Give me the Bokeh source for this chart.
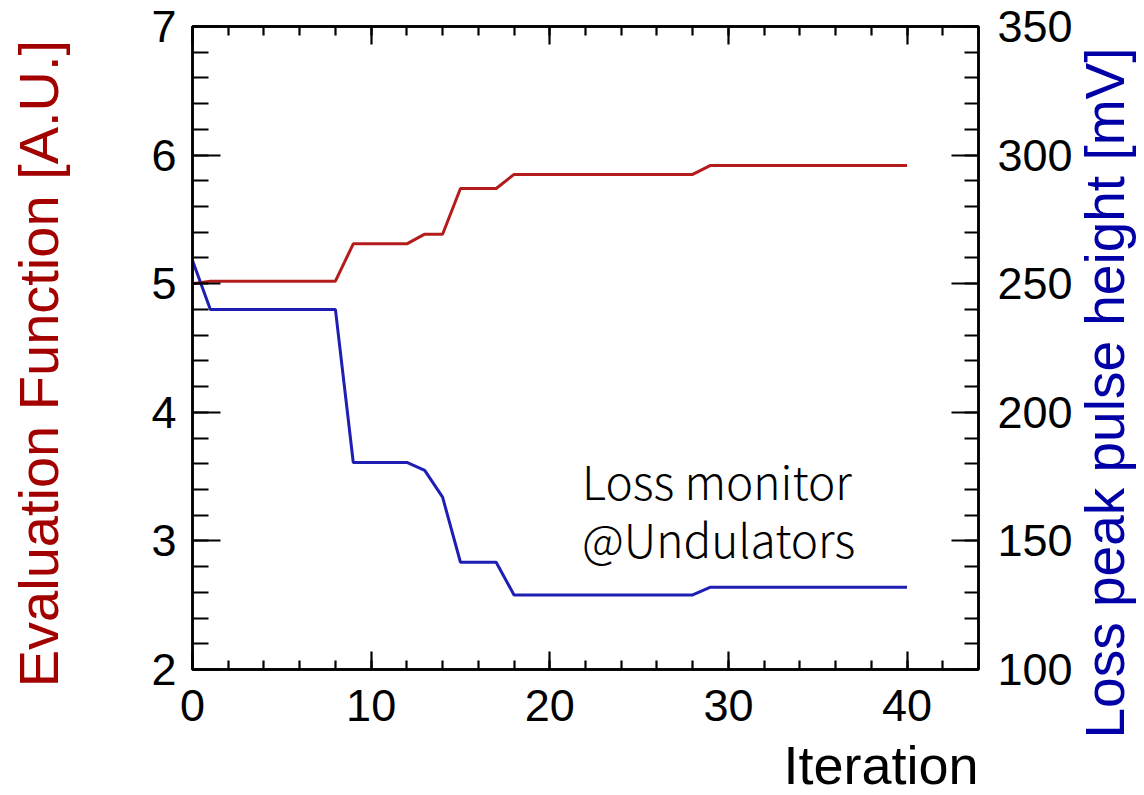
import math
from bokeh.plotting import figure
from bokeh.models import (Range1d, LinearAxis, SingleIntervalTicker, Label,
                          CustomJSTickFormatter)
from bokeh.embed import file_html
from bokeh.resources import INLINE

# ---------------- data ----------------
iterations = [0, 1, 2, 3, 4, 5, 6, 7, 8, 9, 10, 11, 12, 13, 14, 15, 16, 17, 18, 19, 20,
              21, 22, 23, 24, 25, 26, 27, 28, 29, 30, 31, 32, 33, 34, 35, 36, 37, 38, 39, 40]
eval_function = [5.00, 5.02, 5.02, 5.02, 5.02, 5.02, 5.02, 5.02, 5.02,
                 5.31, 5.31, 5.31, 5.31, 5.385, 5.385, 5.74, 5.74, 5.74,
                 5.85, 5.85, 5.85, 5.85, 5.85, 5.85, 5.85, 5.85, 5.85, 5.85, 5.85,
                 5.92, 5.92, 5.92, 5.92, 5.92, 5.92, 5.92, 5.92, 5.92, 5.92, 5.92, 5.92]
loss_peak_mv = [259.0, 240.0, 240.0, 240.0, 240.0, 240.0, 240.0, 240.0, 240.0,
                180.5, 180.5, 180.5, 180.5, 177.4, 167.0, 141.7, 141.7, 141.7,
                129.0, 129.0, 129.0, 129.0, 129.0, 129.0, 129.0, 129.0, 129.0, 129.0, 129.0,
                132.0, 132.0, 132.0, 132.0, 132.0, 132.0, 132.0, 132.0, 132.0, 132.0, 132.0, 132.0]

x_title = "Iteration"
left_title = "Evaluation Function [A.U.]"
right_title = "Loss peak pulse height [mV]"
note_lines = ["Loss monitor", "@Undulators"]

FONT = "Liberation Sans"
NOTE_FONT = "'Noto Sans CJK JP Light', 'Noto Sans CJK JP'"
RED_LINE = "#b41c1c"
BLUE_LINE = "#1e1eb4"
RED_TEXT = "#a30000"
BLUE_TEXT = "#0000a6"
NBSP = "\u00a0"

p = figure(width=1144, height=795, output_backend="svg", toolbar_location=None,
           x_range=Range1d(0, 44), y_range=Range1d(2, 7),
           min_border_left=192, min_border_right=166,
           min_border_top=26, min_border_bottom=126)
p.extra_y_ranges = {"mv": Range1d(100, 350)}
p.grid.visible = False
p.background_fill_color = "white"
p.border_fill_color = "white"
p.outline_line_color = "black"
p.outline_line_width = 2.5

p.line(iterations, eval_function, line_color=RED_LINE, line_width=3)
p.line(iterations, loss_peak_mv, line_color=BLUE_LINE, line_width=3, y_range_name="mv")


def style(ax, maj_in, min_in, standoff):
    ax.axis_line_color = "black"
    ax.axis_line_width = 2.5
    ax.major_tick_in = maj_in
    ax.major_tick_out = 0
    ax.minor_tick_in = min_in
    ax.minor_tick_out = 0
    ax.major_tick_line_width = 2.2
    ax.minor_tick_line_width = 2.2
    ax.major_tick_line_color = "black"
    ax.minor_tick_line_color = "black"
    ax.major_label_text_font = FONT
    ax.major_label_text_font_size = "45px"
    ax.major_label_text_color = "black"
    ax.major_label_standoff = standoff
    ax.axis_label_text_font = FONT
    ax.axis_label_text_font_style = "normal"


xax = p.xaxis[0]
xax.ticker = SingleIntervalTicker(interval=10, num_minor_ticks=5)
style(xax, 18, 9, 20)

yax = p.yaxis[0]
yax.ticker = SingleIntervalTicker(interval=1, num_minor_ticks=5)
style(yax, 28, 16, 16)
yax.axis_label = left_title + NBSP * 2
yax.axis_label_text_font_size = "56px"
yax.axis_label_text_color = RED_TEXT
yax.axis_label_standoff = 78

rax = LinearAxis(y_range_name="mv", ticker=SingleIntervalTicker(interval=50, num_minor_ticks=5))
style(rax, 27, 14, 19)
p.add_layout(rax, "right")

tax = LinearAxis(ticker=SingleIntervalTicker(interval=10, num_minor_ticks=5),
                 formatter=CustomJSTickFormatter(code="return ''"))
style(tax, 18, 9, 0)
tax.major_label_text_font_size = "8px"
p.add_layout(tax, "above")

# axis titles placed in the side panels (data-positioned, not clipped there)
p.add_layout(Label(x=44, y=1.261, text=x_title, text_align="right",
                   text_baseline="alphabetic", text_font=FONT,
                   text_font_size="54px", text_color="black"), "below")
p.add_layout(Label(x=51.06, y=4.15, text=right_title, angle=math.pi / 2,
                   text_align="center", text_baseline="alphabetic", text_font=FONT,
                   text_font_size="55px", text_color=BLUE_TEXT), "right")

# annotation inside the plot
p.add_layout(Label(x=21.8, y=3.474, text=note_lines[0], text_align="left",
                   text_baseline="alphabetic", text_font=NOTE_FONT,
                   text_font_size="46px", text_color="black"))
p.add_layout(Label(x=21.8, y=3.023, text=note_lines[1], text_align="left",
                   text_baseline="alphabetic", text_font=NOTE_FONT,
                   text_font_size="46px", text_color="black"))

open("out.html", "w").write(file_html(p, INLINE))
